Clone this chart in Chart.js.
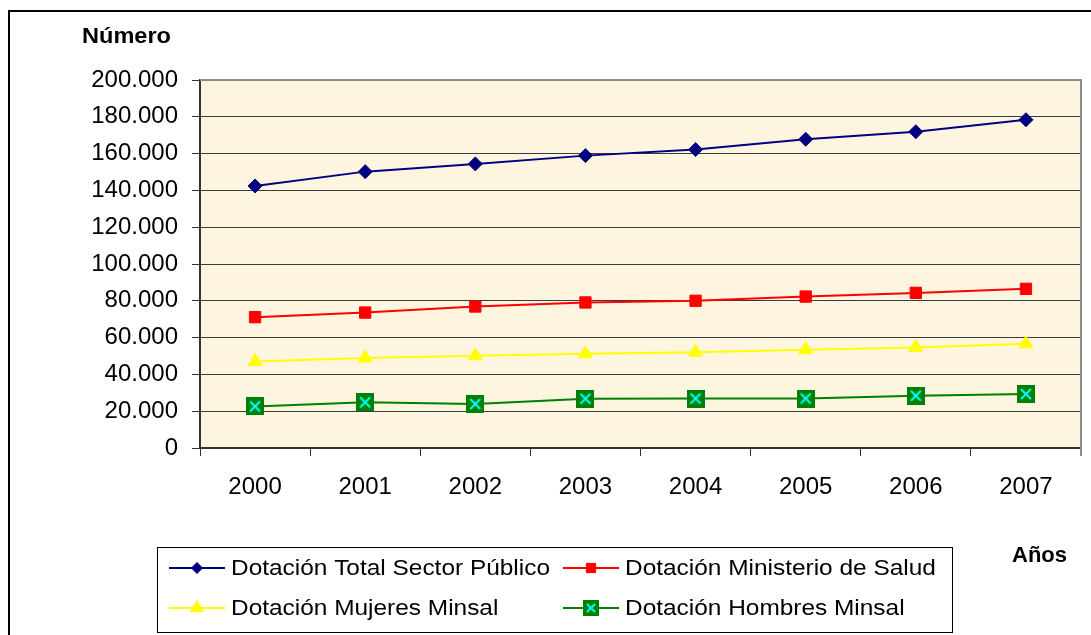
<!DOCTYPE html>
<html>
<head>
<meta charset="utf-8">
<script src="https://cdn.jsdelivr.net/npm/chart.js@4"></script>
<style>
  html, body { margin: 0; padding: 0; background: #fff; }
  canvas { display: block; }
</style>
</head>
<body>
<canvas id="dotacion" width="1091" height="635"></canvas>
<script>
const years = ['2000', '2001', '2002', '2003', '2004', '2005', '2006', '2007'];

const totalSectorPublico = [142400, 150200, 154400, 158900, 162200, 167800, 171900, 178400];
const ministerioSalud    = [71100, 73600, 76900, 79100, 80000, 82300, 84300, 86500];
const mujeresMinsal      = [47000, 48900, 50100, 51200, 52100, 53400, 54600, 56600];
const hombresMinsal      = [22600, 24800, 23900, 26800, 26900, 26900, 28400, 29300];

const seriesNames = [
  'Dotación Total Sector Público',
  'Dotación Ministerio de Salud',
  'Dotación Mujeres Minsal',
  'Dotación Hombres Minsal'
];

const yMax = 200000;
const yStep = 20000;
const yTitle = 'Número';
const xTitle = 'Años';

const FONT = "'Liberation Sans', Arial, sans-serif";

// thousands with a dot, like 120.000
function fmt(v) {
  return String(v).replace(/\B(?=(\d{3})+(?!\d))/g, '.');
}

// green square with a cyan cross for the Hombres series
function crossedSquare(size, pad) {
  const c = document.createElement('canvas');
  c.width = c.height = size;
  const g = c.getContext('2d');
  g.fillStyle = '#008000';
  g.fillRect(0, 0, size, size);
  g.strokeStyle = '#00FFFF';
  g.lineWidth = 2;
  g.beginPath();
  g.moveTo(pad, pad); g.lineTo(size - pad, size - pad);
  g.moveTo(size - pad, pad); g.lineTo(pad, size - pad);
  g.stroke();
  return c;
}
const greenMark = crossedSquare(18, 4);
const greenMarkSmall = crossedSquare(16, 4);

function stretchedText(ctx, text, x, y, sx) {
  ctx.save();
  ctx.translate(x, y);
  ctx.scale(sx, 1);
  ctx.fillText(text, 0, 0);
  ctx.restore();
}

const backdrop = {
  id: 'backdrop',
  beforeDraw(chart) {
    const { ctx, chartArea: a } = chart;
    ctx.save();
    ctx.fillStyle = '#fff';
    ctx.fillRect(0, 0, chart.width, chart.height);
    ctx.fillStyle = '#FDF5E0';
    ctx.fillRect(a.left, a.top, a.right - a.left, a.bottom - a.top);
    // outer frame: top and left edges
    ctx.strokeStyle = '#000';
    ctx.lineWidth = 2;
    ctx.beginPath();
    ctx.moveTo(9, 635);
    ctx.lineTo(9, 11);
    ctx.lineTo(1091, 11);
    ctx.stroke();
    ctx.restore();
  },
  beforeDatasetsDraw(chart) {
    const { ctx, chartArea: a } = chart;
    ctx.save();
    ctx.strokeStyle = '#8c8c8c';
    ctx.lineWidth = 2;
    ctx.beginPath();
    ctx.moveTo(a.left, a.top);
    ctx.lineTo(a.right, a.top);
    ctx.lineTo(a.right, a.bottom + 8);
    ctx.stroke();
    ctx.restore();
  }
};

// legend markers are a little smaller than the ones on the lines
const legendRadius = [5.5, 6.5, 7.5, 8];

const legendBox = {
  id: 'legendBox',
  afterDraw(chart) {
    const ctx = chart.ctx;
    const sets = chart.data.datasets;
    ctx.save();
    ctx.strokeStyle = '#000';
    ctx.lineWidth = 1;
    ctx.strokeRect(157.5, 547.5, 795, 85);

    const cols = [{ x0: 169, x1: 225, tx: 231 }, { x0: 563, x1: 619, tx: 625 }];
    const rows = [568, 608];
    sets.forEach((ds, i) => {
      const c = cols[i % 2];
      const y = rows[Math.floor(i / 2)];
      ctx.strokeStyle = ds.borderColor;
      ctx.lineWidth = 2;
      ctx.beginPath();
      ctx.moveTo(c.x0, y);
      ctx.lineTo(c.x1, y);
      ctx.stroke();
      ctx.fillStyle = ds.pointBackgroundColor;
      ctx.strokeStyle = ds.pointBorderColor;
      ctx.lineWidth = 1;
      const style = ds.pointStyle === greenMark ? greenMarkSmall : ds.pointStyle;
      Chart.helpers.drawPoint(ctx, {
        pointStyle: style, radius: legendRadius[i], rotation: 0, borderWidth: 1
      }, (c.x0 + c.x1) / 2, y);
      ctx.fillStyle = '#000';
      ctx.font = '22px ' + FONT;
      ctx.textBaseline = 'middle';
      ctx.textAlign = 'left';
      stretchedText(ctx, ds.label, c.tx, y + 1, 1.11);
    });

    // axis titles
    ctx.fillStyle = '#000';
    ctx.font = 'bold 22px ' + FONT;
    ctx.textBaseline = 'alphabetic';
    ctx.textAlign = 'left';
    stretchedText(ctx, yTitle, 82, 43, 1.07);
    stretchedText(ctx, xTitle, 1012, 562, 1.0);
    ctx.restore();
  }
};

function series(label, data, color, style, radius) {
  return {
    label, data,
    borderColor: color,
    borderWidth: 2,
    pointStyle: style,
    pointRadius: radius,
    pointBackgroundColor: color,
    pointBorderColor: color,
    pointBorderWidth: 1,
    tension: 0
  };
}

new Chart(document.getElementById('dotacion'), {
  type: 'line',
  data: {
    labels: years,
    datasets: [
      series(seriesNames[0], totalSectorPublico, '#000080', 'rectRot', 7),
      series(seriesNames[1], ministerioSalud, '#FF0000', 'rect', 8),
      series(seriesNames[2], mujeresMinsal, '#FFFF00', 'triangle', 8),
      series(seriesNames[3], hombresMinsal, '#008000', greenMark, 9)
    ]
  },
  options: {
    responsive: false,
    animation: false,
    devicePixelRatio: 1,
    layout: { padding: { top: 80, right: 5, left: 0, bottom: 0 } },
    plugins: { legend: { display: false }, tooltip: { enabled: false } },
    scales: {
      x: {
        offset: true,
        grid: { offset: true, drawOnChartArea: false, tickLength: 8, color: '#333', lineWidth: 1 },
        border: { color: '#333', width: 2 },
        ticks: { color: '#000', font: { family: FONT, size: 24 }, padding: 17, maxRotation: 0, autoSkip: false },
        afterFit(s) { s.height = 187; }
      },
      y: {
        min: 0,
        max: yMax,
        ticks: { stepSize: yStep, color: '#000', font: { family: FONT, size: 24 }, padding: 14, callback: v => fmt(v) },
        grid: {
          color: c => (c.tick && c.tick.value === yMax ? '#8c8c8c' : '#3a3a3a'),
          tickColor: '#333',
          tickLength: 8,
          lineWidth: 1
        },
        border: { color: '#333', width: 2 },
        afterFit(s) { s.width = 200; }
      }
    }
  },
  plugins: [backdrop, legendBox]
});
</script>
</body>
</html>
